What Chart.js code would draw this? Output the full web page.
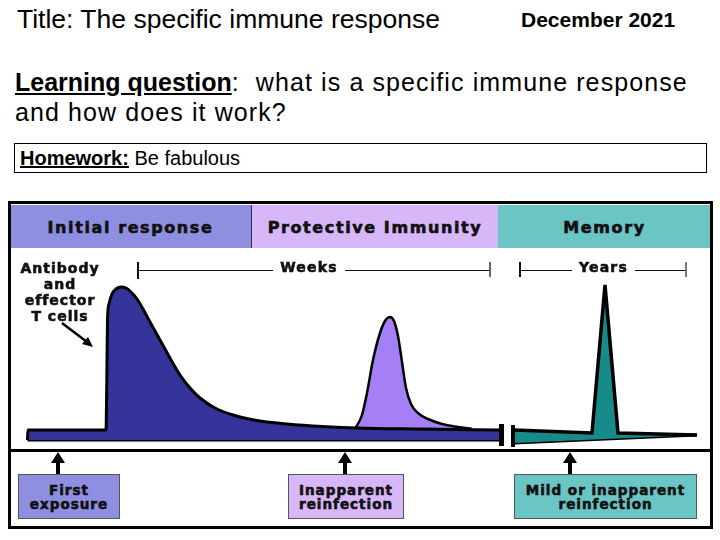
<!DOCTYPE html>
<html>
<head>
<meta charset="utf-8">
<script src="https://cdn.jsdelivr.net/npm/chart.js@4.4.1/dist/chart.umd.min.js"></script>
<style>
body { margin: 0; background: #fff; }
#page { position: relative; width: 720px; height: 540px; overflow: hidden; font-family: "Liberation Sans", Arial, sans-serif; color: #000; }
.abs { position: absolute; white-space: nowrap; }
.dia { font-family: "DejaVu Sans", sans-serif; font-weight: bold; color: #111; text-align: center; -webkit-text-stroke: 0.6px #111; }
.band { position: absolute; top: 205px; height: 43px; line-height: 46px; font-size: 16px; letter-spacing: 1.6px; }
.box { position: absolute; top: 474px; height: 45px; border: 1px solid #555; box-sizing: border-box; font-size: 13.5px; line-height: 14px; padding-top: 8px; letter-spacing: 1px; }
.rule { position: absolute; background: #111; }
#chart { position: absolute; left: 0; top: 0; }
svg { position: absolute; left: 0; top: 0; }
</style>
</head>
<body>
<div id="page">
  <div class="abs" style="left:17px;top:4px;font-size:26px;line-height:30px;transform:scaleX(1.02);transform-origin:left;">Title: The specific immune response</div>
  <div class="abs" style="left:521px;top:6px;font-size:21px;line-height:28px;font-weight:bold;">December 2021</div>
  <div class="abs" style="left:15px;top:67px;font-size:25px;line-height:30px;letter-spacing:1.1px;"><b style="letter-spacing:0;"><u>Learning question</u></b>:&nbsp; what is a specific immune response<br>and how does it work?</div>
  <div class="abs" style="left:14px;top:143px;width:693px;height:30px;border:1px solid #000;box-sizing:border-box;font-size:20px;line-height:28px;padding-left:5px;"><b><u>Homework:</u></b> Be fabulous</div>

  <div class="band dia" style="left:10px;width:241px;background:#8f8fe2;">Initial response</div>
  <div class="rule" style="left:251px;top:205px;width:1px;height:43px;background:#333;"></div>
  <div class="band dia" style="left:252px;width:246px;background:#d7b7f7;">Protective Immunity</div>
  <div class="band dia" style="left:498px;width:213px;background:#6cc5c5;">Memory</div>

  <div class="abs" style="left:8px;top:201px;width:705px;height:328px;border:3px solid #000;box-sizing:border-box;"></div>
  <div class="rule" style="left:8px;top:449px;width:705px;height:3px;background:#000;"></div>

  <canvas id="chart" width="720" height="540"></canvas>

  <div class="abs dia" style="left:8px;top:260px;width:104px;font-size:14px;line-height:16px;letter-spacing:1px;">Antibody<br>and<br>effector<br>T cells</div>

  <div class="rule" style="left:138px;top:270px;width:135px;height:1px;"></div>
  <div class="rule" style="left:137px;top:262px;width:2px;height:17px;"></div>
  <div class="abs dia" style="left:273px;top:259px;width:72px;font-size:14px;line-height:16px;letter-spacing:1.2px;">Weeks</div>
  <div class="rule" style="left:345px;top:270px;width:145px;height:1px;"></div>
  <div class="rule" style="left:489px;top:262px;width:2px;height:15px;background:#666;"></div>

  <div class="rule" style="left:519px;top:262px;width:2px;height:15px;"></div>
  <div class="rule" style="left:520px;top:270px;width:52px;height:1px;"></div>
  <div class="abs dia" style="left:572px;top:259px;width:63px;font-size:14px;line-height:16px;letter-spacing:1.2px;">Years</div>
  <div class="rule" style="left:635px;top:270px;width:51px;height:1px;"></div>
  <div class="rule" style="left:685px;top:262px;width:2px;height:15px;background:#777;"></div>

  <div class="rule" style="left:499px;top:424px;width:5px;height:22px;background:#000;"></div>
  <div class="rule" style="left:511px;top:425px;width:4px;height:22px;background:#000;"></div>

  <svg width="720" height="540">
    <line x1="62" y1="323" x2="87" y2="342" stroke="#000" stroke-width="2.5"/>
    <polygon points="93,347 82,344 88,337" fill="#000"/>
    <rect x="56" y="461" width="4" height="13" fill="#000"/>
    <polygon points="51,463 58,452 65,463" fill="#000"/>
    <rect x="343" y="461" width="4" height="13" fill="#000"/>
    <polygon points="338,463 345,452 352,463" fill="#000"/>
    <rect x="568" y="461" width="4" height="13" fill="#000"/>
    <polygon points="563,463 570,452 577,463" fill="#000"/>
  </svg>

  <div class="box dia" style="left:18px;width:102px;background:#8f8fe2;">First<br>exposure</div>
  <div class="box dia" style="left:288px;width:116px;background:#d7b7f7;">Inapparent<br>reinfection</div>
  <div class="box dia" style="left:514px;width:183px;background:#6cc5c5;">Mild or inapparent<br>reinfection</div>
</div>

<script>
// primary response (first exposure)
const primaryTime  = [27.5, 28, 106, 106.8, 107.5, 109, 112, 116, 121, 126, 131, 137, 143, 150, 160, 170, 180, 190, 200, 215, 233, 260, 300, 357, 420, 500]
const primaryLevel = [0, 10, 10, 60, 120, 136, 146, 151, 153, 152, 148, 141, 131, 118, 100, 82, 65, 52, 42, 32, 25, 19, 15, 12, 11, 10]
const baseTime  = [27.5, 500]
const baseLevel = [0, 0]

// second bump (inapparent reinfection)
const secondaryTime  = [355, 362, 367, 373, 380, 385, 390, 394, 398, 402, 406, 411, 418, 428, 442, 458, 472]
const secondaryLevel = [11, 25, 47, 80, 107, 119, 123, 119, 104, 78, 52, 36, 27, 21, 16, 13, 11]

// memory spike
const memoryTime  = [514, 592, 605, 618, 697]
const memoryLevel = [10, 7, 155, 7, 5]
const memoryBaseTime  = [514, 697]
const memoryBaseLevel = [-3, 5]

const pts = (xs, ys) => xs.map((x, i) => ({ x, y: ys[i] }))

const data = {
    datasets: [
        { data: pts(primaryTime, primaryLevel), fill: '+1', backgroundColor: '#34349a', borderColor: '#000', borderWidth: 3, cubicInterpolationMode: 'monotone' },
        { data: pts(baseTime, baseLevel), fill: false, borderColor: '#000', borderWidth: 3 },
        { data: pts(secondaryTime, secondaryLevel), fill: 0, backgroundColor: '#a57ff6', borderColor: '#000', borderWidth: 2.5, cubicInterpolationMode: 'monotone' },
        { data: pts(memoryTime, memoryLevel), fill: '+1', backgroundColor: '#178a8a', borderColor: '#000', borderWidth: 3.5 },
        { data: pts(memoryBaseTime, memoryBaseLevel), fill: false, borderColor: '#000', borderWidth: 3 }
    ]
}

const options = {
    responsive: false,
    animation: false,
    layout: { padding: 0 },
    elements: { point: { radius: 0 }, line: { tension: 0, borderJoinStyle: 'miter' } },
    scales: {
        x: { type: 'linear', display: false, min: 0, max: 720 },
        y: { type: 'linear', display: false, min: -100, max: 440 }
    },
    plugins: { legend: { display: false }, tooltip: { enabled: false } }
}

new Chart('chart', { type: 'line', data, options })
</script>
</body>
</html>
